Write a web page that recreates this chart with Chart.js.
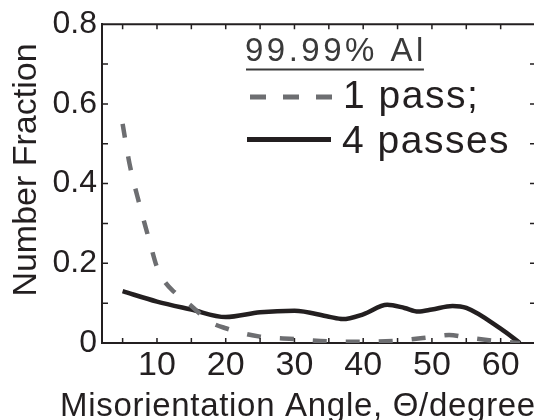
<!DOCTYPE html>
<html>
<head>
<meta charset="utf-8">
<script src="https://cdn.jsdelivr.net/npm/chart.js@4.4.1/dist/chart.umd.min.js"></script>
<style>
    html, body { margin: 0; padding: 0; background: #fff; }
    #wrap { width: 534px; height: 420px; }
</style>
</head>
<body>
<div id="wrap"><canvas id="chart" width="534" height="420"></canvas></div>
<script>
// 1 pass (dashed grey)
const onePassAngle = [5, 6, 7.5, 9, 10, 11, 12.5, 15, 17.5, 20, 25, 30, 35, 40, 45, 50, 52.5, 55, 60, 62.8];
const onePassFraction = [0.55, 0.45, 0.345, 0.25, 0.19, 0.157, 0.128, 0.093, 0.055, 0.037, 0.016, 0.01, 0.004, 0.003, 0.006, 0.015, 0.02, 0.014, 0.004, 0];

// 4 passes (solid black)
const fourPassAngle = [5, 10, 15, 20, 25, 30, 35, 37, 40, 43.5, 46, 48, 50, 53, 55, 60, 62.8];
const fourPassFraction = [0.13, 0.104, 0.084, 0.065, 0.077, 0.081, 0.066, 0.06, 0.072, 0.096, 0.088, 0.079, 0.084, 0.093, 0.088, 0.036, 0];

const xTicks = [10, 20, 30, 40, 50, 60];
const yTicks = [0, 0.2, 0.4, 0.6, 0.8];
const xMinor = [5, 10, 15, 20, 25, 30, 35, 40, 45, 50, 55, 60];
const yMinor = [0.1, 0.2, 0.3, 0.4, 0.5, 0.6, 0.7];

const legendTitle = '99.99% Al';
const seriesNames = ['1 pass;', '4 passes'];

const ink = '#231f20';
const grey = '#6d6e71';
const fontName = '"Liberation Sans", Arial, sans-serif';

function toPoints(xs, ys) {
    return xs.map((x, i) => ({ x: x, y: ys[i] }));
}

function spaced(ctx, px) {
    if ('letterSpacing' in ctx) ctx.letterSpacing = px + 'px';
}

// ticks pointing inwards on all four sides, top spine, legend and axis titles
const framePlugin = {
    id: 'frame',
    afterDraw(chart) {
        const ctx = chart.ctx;
        const a = chart.chartArea;
        const xs = chart.scales.x, ys = chart.scales.y;
        ctx.save();
        ctx.strokeStyle = ink;
        ctx.lineWidth = 2;
        ctx.beginPath();
        ctx.moveTo(a.left, a.top);
        ctx.lineTo(a.right, a.top);
        ctx.stroke();

        ctx.lineWidth = 1.5;
        ctx.beginPath();
        xMinor.forEach(v => {
            const px = xs.getPixelForValue(v);
            ctx.moveTo(px, a.bottom); ctx.lineTo(px, a.bottom - 5);
            ctx.moveTo(px, a.top); ctx.lineTo(px, a.top + 5);
        });
        yMinor.forEach(v => {
            const py = ys.getPixelForValue(v);
            ctx.moveTo(a.left, py); ctx.lineTo(a.left + 6, py);
            ctx.moveTo(a.right, py); ctx.lineTo(a.right - 4, py);
        });
        ctx.stroke();

        // legend
        ctx.fillStyle = '#3a3a3a';
        ctx.font = '33px ' + fontName;
        ctx.textAlign = 'left';
        ctx.textBaseline = 'alphabetic';
        spaced(ctx, 3.5);
        ctx.fillText(legendTitle, 245, 61);
        const tw = ctx.measureText(legendTitle).width;
        spaced(ctx, 0);
        ctx.fillRect(246, 68.5, tw - 4, 2);

        ctx.lineWidth = 5;
        ctx.strokeStyle = grey;
        ctx.setLineDash([16, 17]);
        ctx.beginPath();
        ctx.moveTo(250, 97); ctx.lineTo(333, 97);
        ctx.stroke();
        ctx.setLineDash([]);
        ctx.strokeStyle = ink;
        ctx.beginPath();
        ctx.moveTo(247, 139.5); ctx.lineTo(331, 139.5);
        ctx.stroke();

        ctx.fillStyle = ink;
        ctx.font = '39px ' + fontName;
        spaced(ctx, 1.5);
        ctx.fillText(seriesNames[0], 343, 108);
        ctx.fillText(seriesNames[1], 342, 153);

        // axis titles
        ctx.font = '33px ' + fontName;
        spaced(ctx, 0.7);
        ctx.fillText('Misorientation Angle, \u0398/degree', 60, 416);
        spaced(ctx, 0);
        ctx.translate(36, 170);
        ctx.rotate(-Math.PI / 2);
        ctx.textAlign = 'center';
        ctx.font = '34px ' + fontName;
        ctx.fillText('Number Fraction', 0, 0);
        ctx.restore();
    }
};

new Chart(document.getElementById('chart').getContext('2d'), {
    type: 'line',
    data: {
        datasets: [{
            label: seriesNames[0],
            data: toPoints(onePassAngle, onePassFraction),
            borderColor: grey,
            borderWidth: 4.5,
            borderDash: [14, 19],
            cubicInterpolationMode: 'monotone',
            pointRadius: 0,
            fill: false
        }, {
            label: seriesNames[1],
            data: toPoints(fourPassAngle, fourPassFraction),
            borderColor: ink,
            borderWidth: 4.5,
            cubicInterpolationMode: 'monotone',
            pointRadius: 0,
            fill: false
        }]
    },
    options: {
        responsive: false,
        animation: false,
        layout: { padding: { top: 20, right: 0, bottom: 0, left: 0 } },
        scales: {
            x: {
                type: 'linear',
                min: 2,
                max: 64.85,
                afterBuildTicks: s => { s.ticks = xTicks.map(v => ({ value: v })); },
                afterFit: s => { s.height = 77; },
                grid: { display: false, drawTicks: false },
                border: { display: true, color: ink, width: 2 },
                ticks: {
                    color: ink,
                    padding: 2,
                    autoSkip: false,
                    maxRotation: 0,
                    font: { family: fontName, size: 34 },
                    callback: v => String(v)
                }
            },
            y: {
                type: 'linear',
                min: 0,
                max: 0.8,
                afterBuildTicks: s => { s.ticks = yTicks.map(v => ({ value: v })); },
                afterFit: s => { s.width = 102; },
                grid: { display: false, drawTicks: false },
                border: { display: true, color: ink, width: 2 },
                ticks: {
                    color: ink,
                    padding: 5,
                    autoSkip: false,
                    font: { family: fontName, size: 32 },
                    callback: v => (v === 0 ? '0' : v.toFixed(1))
                }
            }
        },
        plugins: {
            legend: { display: false },
            tooltip: { enabled: false }
        }
    },
    plugins: [framePlugin]
});
</script>
</body>
</html>
